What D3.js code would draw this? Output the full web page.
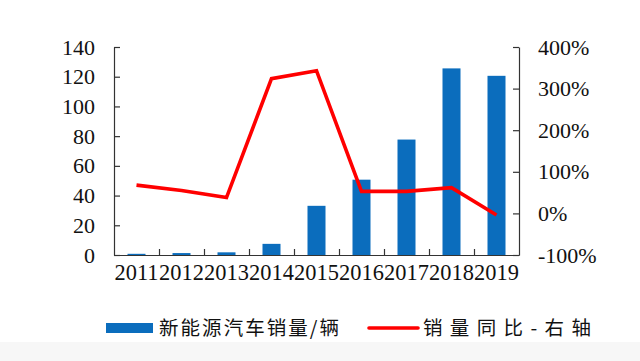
<!DOCTYPE html>
<html>
<head>
<meta charset="utf-8">
<script src="https://cdn.jsdelivr.net/npm/d3@7"></script>
<style>
  html, body { margin: 0; padding: 0; background: #fff; }
  svg { display: block; }
</style>
</head>
<body>
<div id="chart"></div>
<script>
// ---- data ----
const years = ["2011","2012","2013","2014","2015","2016","2017","2018","2019"];
const sales = [0.8, 1.3, 1.8, 7.5, 33.1, 50.7, 77.7, 125.6, 120.6];
const growth = [68, 55, 38, 324, 343, 53, 53, 62, -4];
const leftTicks = [0, 20, 40, 60, 80, 100, 120, 140];
const rightTicks = [-100, 0, 100, 200, 300, 400];
const legendLabels = ["新能源汽车销量/辆", "销量同比-右轴"];

const W = 640, H = 361;
const pLeft = 114, pRight = 519, pTop = 47, pBottom = 255;
const axisColor = "#333";
const serif = "'Liberation Serif', 'Times New Roman', serif";
const cjk = "'Noto Sans CJK SC', sans-serif";

const svg = d3.select("#chart").append("svg").attr("width", W).attr("height", H);
svg.append("rect").attr("x", 0).attr("y", 0).attr("width", W).attr("height", H).attr("fill", "#fff");
svg.append("rect").attr("x", 0).attr("y", 342).attr("width", W).attr("height", H - 342).attr("fill", "#f7f7f7");

const x = d3.scaleBand().domain(years).range([pLeft, pRight]).paddingInner(0.6).paddingOuter(0.3);
const xb = d3.scaleLinear().domain([0, years.length]).range([pLeft, pRight]);
const yL = d3.scaleLinear().domain([0, 140]).range([pBottom, pTop]);
const yR = d3.scaleLinear().domain([-100, 400]).range([pBottom, pTop]);

// bars
svg.append("g").selectAll("rect").data(sales).join("rect")
  .attr("x", (d, i) => x(years[i]))
  .attr("width", x.bandwidth())
  .attr("y", d => yL(d))
  .attr("height", d => yL(0) - yL(d))
  .attr("fill", "#0b6dbd");

function styleAxis(g) {
  g.select(".domain").attr("stroke", axisColor).attr("stroke-width", 1.2);
  g.selectAll(".tick line").attr("stroke", axisColor).attr("stroke-width", 1.2);
}

// left axis
const gL = svg.append("g").attr("transform", `translate(${pLeft},0)`)
  .call(d3.axisLeft(yL).tickValues(leftTicks).tickSizeInner(-6).tickSizeOuter(0).tickPadding(19));
styleAxis(gL);
gL.selectAll(".tick text").attr("font-family", serif).attr("font-size", 22).attr("fill", "#111");

// right axis
const gR = svg.append("g").attr("transform", `translate(${pRight},0)`)
  .call(d3.axisRight(yR).tickValues(rightTicks).tickSizeInner(-6).tickSizeOuter(0).tickPadding(19)
    .tickFormat(d => d + "%"));
styleAxis(gR);
gR.selectAll(".tick text").attr("font-family", serif).attr("font-size", 22).attr("fill", "#111");

// bottom axis: boundary ticks
const gB = svg.append("g").attr("transform", `translate(0,${pBottom})`)
  .call(d3.axisBottom(xb).tickValues(d3.range(1, years.length)).tickSizeInner(-6).tickSizeOuter(0).tickFormat(""));
styleAxis(gB);

// bottom labels
const gBL = svg.append("g").attr("transform", `translate(0,${pBottom})`)
  .call(d3.axisBottom(x).tickSize(0).tickPadding(9));
gBL.select(".domain").remove();
gBL.selectAll(".tick text").attr("font-family", serif).attr("font-size", 22.4).attr("fill", "#111");

// line
const line = d3.line()
  .x((d, i) => x(years[i]) + x.bandwidth() / 2)
  .y(d => yR(d));
svg.append("path").datum(growth)
  .attr("d", line)
  .attr("fill", "none")
  .attr("stroke", "#ff0000")
  .attr("stroke-width", 3.6)
  .attr("stroke-linejoin", "miter");

// legend
const lg = svg.append("g");
lg.append("rect").attr("x", 106).attr("y", 323).attr("width", 47).attr("height", 10).attr("fill", "#0b6dbd");
lg.append("text").attr("x", 159).attr("y", 335)
  .attr("font-family", cjk).attr("font-size", 19.5).attr("fill", "#111")
  .attr("textLength", 180).attr("lengthAdjust", "spacing")
  .text(legendLabels[0]);
lg.append("line").attr("x1", 369).attr("x2", 418).attr("y1", 328).attr("y2", 328)
  .attr("stroke", "#ff0000").attr("stroke-width", 3.6).attr("stroke-linecap", "round");
lg.append("text").attr("x", 423).attr("y", 335)
  .attr("font-family", cjk).attr("font-size", 19.5).attr("fill", "#111")
  .attr("textLength", 168).attr("lengthAdjust", "spacing")
  .text(legendLabels[1]);
</script>
</body>
</html>
